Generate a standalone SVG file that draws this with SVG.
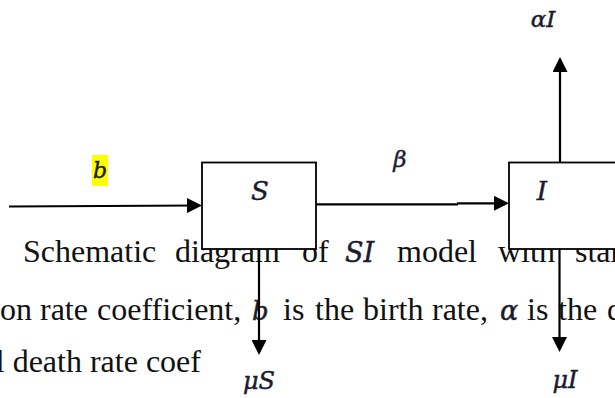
<svg xmlns="http://www.w3.org/2000/svg" width="615" height="398" viewBox="0 0 615 398">
<style>
.body{font-family:"Liberation Serif","Times New Roman",serif;font-size:32px;fill:#111}
.math{font-family:"DejaVu Serif","Liberation Serif",serif;font-style:italic;fill:#1b1b2e;stroke:#1b1b2e;stroke-width:0.45}
.box{fill:#fff;stroke:#000;stroke-width:1.8}
.wire{stroke:#000;stroke-width:2.2;fill:none}
</style>
<defs>
<marker id="ah" markerUnits="userSpaceOnUse" markerWidth="15" markerHeight="15" refX="10" refY="7.5" orient="auto">
<path d="M0,0 L15,7.5 L0,15 Z" fill="#000"/>
</marker>
</defs>
<rect width="615" height="398" fill="#fff"/>
<g id="caption">
<text class="body" x="23" y="262">Schematic</text>
<text class="body" x="175" y="262">diagram</text>
<text class="body" x="302" y="262">of</text>
<text class="math" x="345" y="262" font-size="27">SI</text>
<text class="body" x="397" y="262">model</text>
<text class="body" x="498" y="262">with</text>
<text class="body" x="575" y="262">stan</text>
<text class="body" x="0" y="320">on</text>
<text class="body" x="40" y="320">rate</text>
<text class="body" x="97" y="320">coefficient,</text>
<text class="math" x="252" y="320" font-size="26">b</text>
<text class="body" x="283" y="320">is</text>
<text class="body" x="315" y="320">the</text>
<text class="body" x="363" y="320">birth</text>
<text class="body" x="432" y="320">rate,</text>
<text class="math" x="500" y="320" font-size="27">α</text>
<text class="body" x="527" y="320">is</text>
<text class="body" x="558" y="320">the</text>
<text class="body" x="607" y="320">d</text>
<text class="body" x="-84.2" y="372">natural death rate coef</text>
</g>
<g id="node-S">
<rect class="box" x="202" y="162.5" width="114" height="86.5"/>
<text class="math" x="260" y="200" font-size="26" text-anchor="middle">S</text>
</g>
<g id="node-I">
<rect class="box" x="509" y="162.5" width="120" height="86.5"/>
<text class="math" x="542" y="200" font-size="26" text-anchor="middle">I</text>
</g>
<g id="connectors">
<line class="wire" x1="9" y1="206.5" x2="197" y2="205.5" stroke-width="2.6" marker-end="url(#ah)"/>
<line class="wire" x1="316" y1="204.3" x2="458" y2="204.3" stroke-width="1.4"/>
<line class="wire" x1="457" y1="203.3" x2="504" y2="203.3" stroke-width="2.4" marker-end="url(#ah)"/>
<line class="wire" x1="560" y1="162" x2="560" y2="62" marker-end="url(#ah)"/>
<line class="wire" x1="259" y1="249" x2="259" y2="350" marker-end="url(#ah)"/>
<line class="wire" x1="559.5" y1="249" x2="559.5" y2="347" marker-end="url(#ah)"/>
</g>
<g id="labels">
<rect x="92" y="155" width="16" height="31" fill="#ffff00"/>
<text class="math" x="100" y="178" font-size="22" text-anchor="middle">b</text>
<text class="math" x="400" y="167" font-size="23" text-anchor="middle">β</text>
<text class="math" x="543" y="27" font-size="23" text-anchor="middle">αI</text>
<text class="math" x="259" y="389" font-size="24" text-anchor="middle">μS</text>
<text class="math" x="565" y="388" font-size="24" text-anchor="middle">μI</text>
</g>
</svg>
